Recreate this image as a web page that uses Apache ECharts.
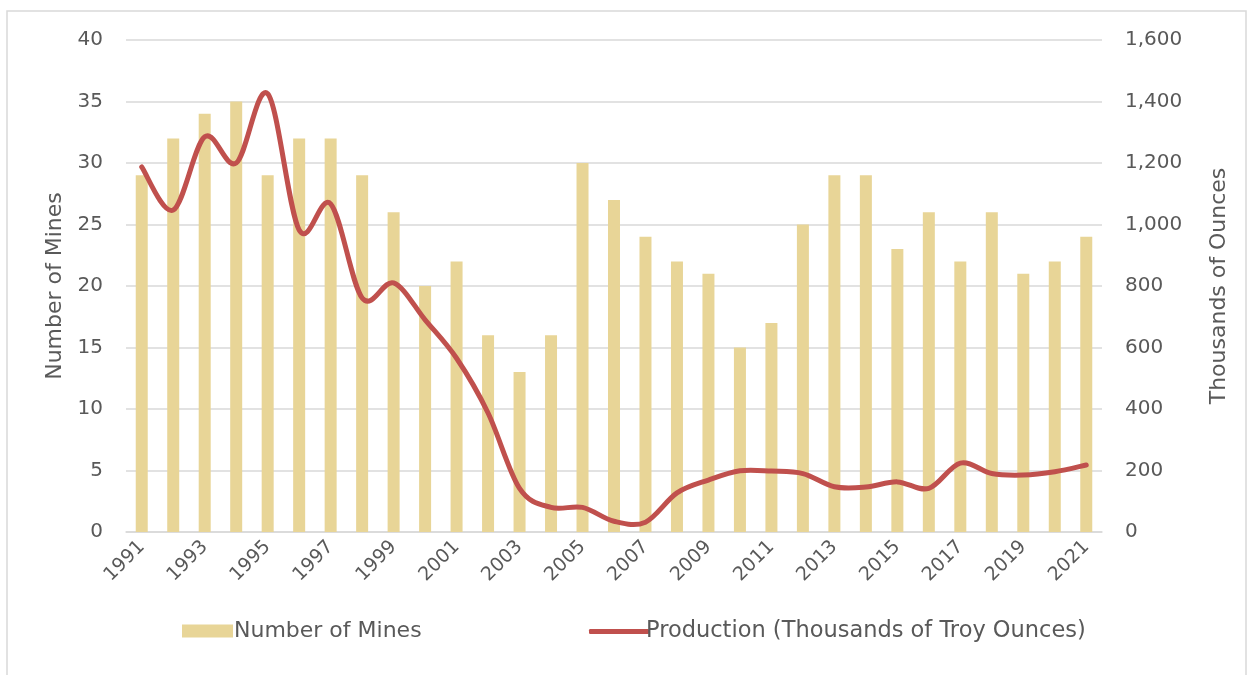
<!DOCTYPE html>
<html>
<head>
<meta charset="utf-8">
<script src="https://cdn.jsdelivr.net/npm/echarts@6/dist/echarts.min.js"></script>
<style>
html,body{margin:0;padding:0;background:#fff;}
#chart{width:1253px;height:675px;}
</style>
</head>
<body>
<div id="chart"></div>
<script>
const years = ['1991','1992','1993','1994','1995','1996','1997','1998','1999','2000','2001','2002','2003','2004','2005','2006','2007','2008','2009','2010','2011','2012','2013','2014','2015','2016','2017','2018','2019','2020','2021'];
const mines = [29,32,34,35,29,32,32,29,26,20,22,16,13,16,30,27,24,22,21,15,17,25,29,29,23,26,22,26,21,22,24];
const production = [1187,1047,1285,1200,1425,982,1067,761,810,690,565,387,142,80,80,35,32,127,169,199,198,190,147,146,163,142,224,190,185,196,218];
const leftTicks = {min:0, max:40, interval:5};
const rightTicks = {min:0, max:1600, interval:200};

const font = 'DejaVu Sans';
const txt = '#595959';
const lineColor = '#c0504d';
const barColor = '#e8d597';

// Smooth curve (Catmull-Rom style, like a spreadsheet's smoothed line) drawn through
// points that are projected by the chart's own axes via api.coord.
function renderSmooth(params, api) {
  if (params.dataIndex !== 0) return null;
  const pts = production.map((v, k) => api.coord([k, v]));
  const n = pts.length;
  const t = 1 / 6;
  let d = 'M' + pts[0][0] + ' ' + pts[0][1];
  for (let i = 0; i < n - 1; i++) {
    const p0 = pts[Math.max(i - 1, 0)], p1 = pts[i], p2 = pts[i + 1], p3 = pts[Math.min(i + 2, n - 1)];
    const c1 = [p1[0] + (p2[0] - p0[0]) * t, p1[1] + (p2[1] - p0[1]) * t];
    const c2 = [p2[0] - (p3[0] - p1[0]) * t, p2[1] - (p3[1] - p1[1]) * t];
    d += ' C' + c1[0] + ' ' + c1[1] + ' ' + c2[0] + ' ' + c2[1] + ' ' + p2[0] + ' ' + p2[1];
  }
  return {
    type: 'path',
    shape: {pathData: d},
    style: {fill: 'none', stroke: lineColor, lineWidth: 5, lineCap: 'round', lineJoin: 'round'}
  };
}

const chart = echarts.init(document.getElementById('chart'), null, {renderer:'canvas'});
chart.setOption({
  animation:false,
  backgroundColor:'#ffffff',
  textStyle:{fontFamily:font},
  graphic:[{type:'rect', shape:{x:7,y:11,width:1239,height:680}, style:{fill:'none', stroke:'#d9d9d9', lineWidth:1.5}, silent:true}],
  grid:{left:126, right:151, top:40, bottom:143, containLabel:false},
  legend:[
    {left:177, top:615, itemWidth:51, itemHeight:13, itemGap:0,
     textStyle:{color:txt, fontSize:22, fontFamily:font, padding:[0,0,0,-4]},
     data:[{name:'Number of Mines', icon:'rect', itemStyle:{color:barColor}}]},
    {left:584, top:615, itemWidth:60, itemHeight:5, itemGap:0,
     textStyle:{color:txt, fontSize:22.5, fontFamily:font, padding:[0,0,0,-8]},
     data:[{name:'Production (Thousands of Troy Ounces)', icon:'roundRect', itemStyle:{color:lineColor}}]}
  ],
  xAxis:{
    type:'category', data:years, boundaryGap:true,
    axisLine:{lineStyle:{color:'#d9d9d9', width:1.5}},
    axisTick:{show:false},
    axisLabel:{interval:1, rotate:45, color:txt, fontSize:19, fontFamily:font, margin:12}
  },
  yAxis:[
    {type:'value', min:leftTicks.min, max:leftTicks.max, interval:leftTicks.interval,
     name:'Number of Mines', nameLocation:'middle', nameGap:59, nameRotate:90,
     nameTextStyle:{color:txt, fontSize:22, fontFamily:font},
     axisLine:{show:false}, axisTick:{show:false},
     axisLabel:{color:txt, fontSize:20, fontFamily:font, margin:23},
     splitLine:{lineStyle:{color:'#d9d9d9', width:1.5}}},
    {type:'value', min:rightTicks.min, max:rightTicks.max, interval:rightTicks.interval, position:'right',
     name:'Thousands of Ounces', nameLocation:'middle', nameGap:106, nameRotate:90,
     nameTextStyle:{color:txt, fontSize:22, fontFamily:font},
     axisLine:{show:false}, axisTick:{show:false},
     axisLabel:{color:txt, fontSize:20, fontFamily:font, margin:23,
       formatter:v=>v.toLocaleString('en-US')},
     splitLine:{show:false}}
  ],
  series:[
    {name:'Number of Mines', type:'bar', data:mines, yAxisIndex:0, barWidth:12,
     itemStyle:{color:barColor}},
    {name:'Production (Thousands of Troy Ounces)', type:'custom', yAxisIndex:1,
     data:production.map((v,k)=>[k,v]), encode:{x:0, y:1},
     itemStyle:{color:lineColor},
     renderItem:renderSmooth, z:3}
  ]
});
</script>
</body>
</html>
